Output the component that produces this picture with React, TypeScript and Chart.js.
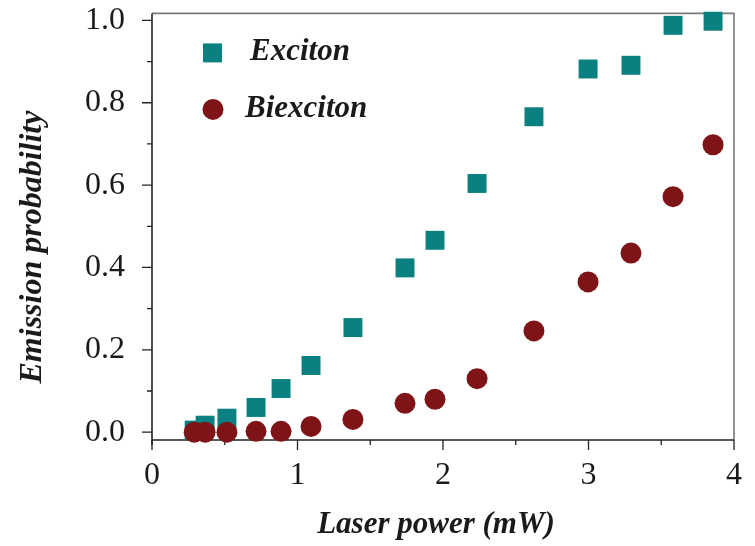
import React, { useEffect, useRef } from "react";
import { Chart, registerables } from "chart.js";

Chart.register(...registerables);

// Laser power (mW) for each measurement
const powerMW = [0.29, 0.365, 0.515, 0.715, 0.887, 1.093, 1.381, 1.739, 1.945, 2.234, 2.625, 2.997, 3.292, 3.581, 3.856];
// Emission probability of the exciton line
const excitonProb = [0.005, 0.017, 0.034, 0.06, 0.106, 0.162, 0.254, 0.399, 0.466, 0.604, 0.766, 0.882, 0.891, 0.988, 0.998];
// Emission probability of the biexciton line
const biexcitonProb = [0.0, 0.0, 0.0, 0.002, 0.002, 0.014, 0.031, 0.07, 0.08, 0.13, 0.246, 0.365, 0.435, 0.572, 0.698];

const xMajorTicks = [0, 1, 2, 3, 4];
const xMinorTicks = [0.5, 1.5, 2.5, 3.5];
const yMajorTicks = [0, 0.2, 0.4, 0.6, 0.8, 1.0];
const yMinorTicks = [0.1, 0.3, 0.5, 0.7, 0.9];

const seriesNames = ["Exciton", "Biexciton"];
const xTitle = "Laser power (mW)";
const yTitle = "Emission probability";

const TEAL = "#0a8080";
const MAROON = "#7e1417";
const INK = "#1a1a1a";
const SERIF = '"Liberation Serif", "Times New Roman", serif';

const W = 755;
const H = 546;

const framePlugin = {
  id: "frameAndTicks",
  beforeDatasetsDraw(chart: any) {
    const { ctx, chartArea, scales } = chart;
    const { left, right, top, bottom } = chartArea;
    const xs = scales.x;
    const ys = scales.y;
    ctx.save();
    // grey upper and right frame
    ctx.strokeStyle = "#7a7a7a";
    ctx.lineWidth = 1.6;
    ctx.beginPath();
    ctx.moveTo(left, top);
    ctx.lineTo(right, top);
    ctx.lineTo(right, bottom);
    ctx.stroke();
    // black axes
    ctx.strokeStyle = "#222";
    ctx.lineWidth = 1.6;
    ctx.beginPath();
    ctx.moveTo(left, top);
    ctx.lineTo(left, bottom + 5);
    ctx.moveTo(left, bottom);
    ctx.lineTo(right, bottom);
    ctx.stroke();
    // tick marks, pointing outward
    ctx.lineWidth = 1.3;
    ctx.beginPath();
    for (const v of yMajorTicks) {
      const y = ys.getPixelForValue(v);
      ctx.moveTo(left - 10, y);
      ctx.lineTo(left, y);
    }
    for (const v of yMinorTicks) {
      const y = ys.getPixelForValue(v);
      ctx.moveTo(left - 5, y);
      ctx.lineTo(left, y);
    }
    for (const v of xMajorTicks) {
      const x = xs.getPixelForValue(v);
      ctx.moveTo(x, bottom);
      ctx.lineTo(x, bottom + 10);
    }
    for (const v of xMinorTicks) {
      const x = xs.getPixelForValue(v);
      ctx.moveTo(x, bottom);
      ctx.lineTo(x, bottom + 5);
    }
    ctx.stroke();
    ctx.restore();
  },
  afterDraw(chart: any) {
    const { ctx, chartArea } = chart;
    const { left, top } = chartArea;
    ctx.save();
    ctx.fillStyle = INK;
    ctx.font = `italic bold 31px ${SERIF}`;
    ctx.textBaseline = "middle";
    // axis titles
    ctx.textAlign = "center";
    ctx.fillText(xTitle, 436, 525);
    ctx.save();
    ctx.translate(33, 247);
    ctx.rotate(-Math.PI / 2);
    ctx.font = `italic bold 32px ${SERIF}`;
    ctx.fillText(yTitle, 0, 0);
    ctx.restore();
    // legend
    ctx.textAlign = "left";
    ctx.fillStyle = TEAL;
    ctx.fillRect(left + 51, top + 30, 19, 19);
    ctx.fillStyle = INK;
    ctx.fillText(seriesNames[0], left + 98, top + 39);
    ctx.fillStyle = MAROON;
    ctx.beginPath();
    ctx.arc(left + 61, top + 96, 10.5, 0, Math.PI * 2);
    ctx.fill();
    ctx.fillStyle = INK;
    ctx.fillText(seriesNames[1], left + 93, top + 96);
    ctx.restore();
  },
};

export default function App() {
  const canvasRef = useRef<HTMLCanvasElement | null>(null);

  useEffect(() => {
    document.body.style.margin = "0";
    const canvas = canvasRef.current;
    if (!canvas) return;
    const chart = new Chart(canvas, {
      type: "scatter",
      data: {
        datasets: [
          {
            label: seriesNames[0],
            data: powerMW.map((x, i) => ({ x, y: excitonProb[i] })),
            pointStyle: "rect",
            pointRadius: 13.4,
            pointHoverRadius: 13.4,
            backgroundColor: TEAL,
            borderColor: TEAL,
            borderWidth: 0,
            order: 2,
            clip: false as any,
          },
          {
            label: seriesNames[1],
            data: powerMW.map((x, i) => ({ x, y: biexcitonProb[i] })),
            pointStyle: "circle",
            pointRadius: 10.5,
            pointHoverRadius: 10.5,
            backgroundColor: MAROON,
            borderColor: MAROON,
            borderWidth: 0,
            order: 1,
            clip: false as any,
          },
        ],
      },
      options: {
        responsive: false,
        animation: false,
        layout: { padding: { left: 0, top: 11, right: 21, bottom: 0 } },
        plugins: {
          legend: { display: false },
          tooltip: { enabled: false },
        },
        scales: {
          x: {
            type: "linear",
            min: 0,
            max: 4,
            afterBuildTicks: (s: any) => {
              s.ticks = xMajorTicks.map((v) => ({ value: v }));
            },
            afterFit: (s: any) => {
              s.height = H - 440;
              s.paddingLeft = 0;
              s.paddingRight = 0;
            },
            ticks: {
              autoSkip: false,
              maxRotation: 0,
              padding: 16,
              color: INK,
              font: { family: SERIF, size: 32 },
              callback: (v: any) => String(v),
            },
            grid: { display: false, drawTicks: false },
            border: { display: false },
          },
          y: {
            type: "linear",
            min: -0.019,
            max: 1.017,
            afterBuildTicks: (s: any) => {
              s.ticks = yMajorTicks.map((v) => ({ value: v }));
            },
            afterFit: (s: any) => {
              s.width = 152;
              s.paddingTop = 0;
              s.paddingBottom = 0;
            },
            ticks: {
              autoSkip: false,
              padding: 27,
              color: INK,
              font: { family: SERIF, size: 32 },
              callback: (v: any) => Number(v).toFixed(1),
            },
            grid: { display: false, drawTicks: false },
            border: { display: false },
          },
        },
      },
      plugins: [framePlugin],
    });
    return () => chart.destroy();
  }, []);

  return (
    <div style={{ position: "absolute", left: 0, top: 0, width: W, height: H, background: "#fff" }}>
      <canvas ref={canvasRef} width={W} height={H} style={{ display: "block" }} />
    </div>
  );
}
